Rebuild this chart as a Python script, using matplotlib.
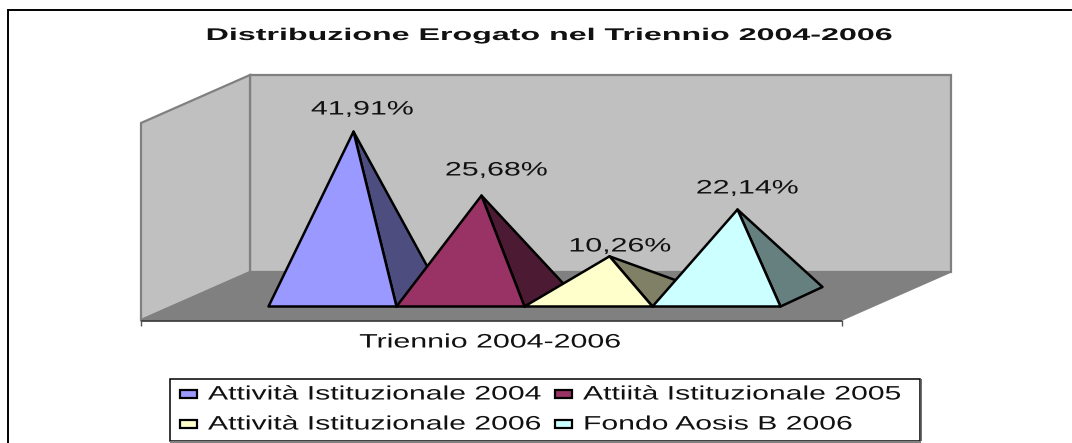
import matplotlib
matplotlib.use("Agg")
import matplotlib.pyplot as plt
from matplotlib.patches import Polygon
from matplotlib.patheffects import AbstractPathEffect
from matplotlib.transforms import Affine2D

title = "Distribuzione Erogato nel Triennio 2004-2006"
category = "Triennio 2004-2006"
series = ["Attività Istituzionale 2004", "Attiità Istituzionale 2005",
          "Attività Istituzionale 2006", "Fondo Aosis B 2006"]
values = [41.91, 25.68, 10.26, 22.14]
labels = ["41,91%", "25,68%", "10,26%", "22,14%"]
front_colors = ["#9999FF", "#993366", "#FFFFCC", "#CCFFFF"]
side_colors = ["#4D4D80", "#4D1A33", "#808066", "#668080"]

W, H = 1072, 443
X0, XU, Y0, YU = 268.5, 128.0, 306.5, 3.94
plt.rcParams['font.family'] = ['Liberation Sans', 'DejaVu Sans']
fig = plt.figure(figsize=(W / 100, H / 100), dpi=100, facecolor="white")
ax = fig.add_axes([0, 0, 1, 1])
ax.set_xlim(-X0 / XU, (W - X0) / XU)
ax.set_ylim((Y0 - H) / YU, Y0 / YU)
ax.axis("off")
px = lambda x: (x - X0) / XU
py = lambda y: (Y0 - y) / YU


class Stretch(AbstractPathEffect):
    """Draw real text wider about a fixed pixel column."""
    def __init__(self, sx, cx):
        super().__init__()
        self.sx, self.cx = sx, cx

    def draw_path(self, renderer, gc, tpath, affine, rgbFace=None):
        t = affine + Affine2D().translate(-self.cx, 0).scale(self.sx, 1).translate(self.cx, 0)
        renderer.draw_path(gc, tpath, t, rgbFace)


def wide_text(x, y, s, sx, size, ha="center", **kw):
    ax.text(px(x), py(y), s, ha=ha, va="center", fontsize=size, color="#111111", zorder=30,
            path_effects=[Stretch(sx, x)], **kw)


def poly(pts, **kw):
    ax.add_patch(Polygon([(px(a), py(b)) for a, b in pts], closed=True, **kw))


def line(pts, c, lw, z=5):
    ax.plot([px(a) for a, b in pts], [py(b) for a, b in pts], color=c, lw=lw, zorder=z,
            solid_capstyle="butt")


# frame: top and left edges only are inside the picture
line([(7.5, 9.5), (1072, 9.5)], "black", 1.4, z=1)
line([(7.5, 9), (7.5, 443)], "black", 1.4, z=1)

# walls and floor
poly([(250, 75), (951, 75), (951, 272), (250, 272)], fc="#C0C0C0", ec="#808080", lw=1.6, zorder=1)
poly([(141, 123), (250, 75), (250, 272), (141, 320)], fc="#C0C0C0", ec="#808080", lw=1.6, zorder=1)
poly([(141, 320), (250, 272), (951, 272), (842, 320)], fc="#808080", ec="#808080", lw=1, zorder=2)
line([(141, 320.5), (842, 320.5)], "#333333", 1.2)
line([(141, 320), (141, 326)], "#555555", 1)
line([(842, 320), (842, 326)], "#555555", 1)

# pyramids
DX, DY = 42 / XU, 19.5 / YU
label_pos = [(362.5, 110), (496.5, 171), (620, 247), (747.5, 189)]
for i, (v, fc, sc, lab, (lx, ly)) in enumerate(zip(values, front_colors, side_colors, labels, label_pos)):
    apex = (i + 0.5 + DX / 2, v + DY / 2)
    z = 10 + i
    ax.add_patch(Polygon([(i + 1, 0), (i + 1 + DX, DY), apex], closed=True, fc=sc, ec="black",
                         lw=1.8, zorder=z, joinstyle="round"))
    ax.add_patch(Polygon([(i, 0), (i + 1, 0), apex], closed=True, fc=fc, ec="black",
                         lw=1.8, zorder=z + 0.5, joinstyle="round"))
    wide_text(lx, ly, lab, 1.56, 14)

wide_text(548, 35.5, title, 1.9, 12.2, fontweight="bold")
wide_text(491, 343, category, 1.56, 14)

# legend
poly([(169.5, 378.5), (920, 378.5), (920, 441), (169.5, 441)], fc="white", ec="black", lw=1.1, zorder=3)
line([(170, 441.5), (921, 441.5)], "#808080", 1.6, z=4)
line([(920.5, 379), (920.5, 441)], "#555555", 1.2, z=4)
pos = [(180, 394, 208), (555, 394, 583), (180, 424, 208), (555, 424, 583)]
for (bx, by, tx), s, fc in zip(pos, series, front_colors):
    poly([(bx, by - 4), (bx + 17, by - 4), (bx + 17, by + 4), (bx, by + 4)], fc=fc, ec="black", lw=1.6, zorder=5)
    wide_text(tx, by + 1, s, 1.55, 14, ha="left")

fig.savefig("out.png", dpi=100, facecolor="white")
